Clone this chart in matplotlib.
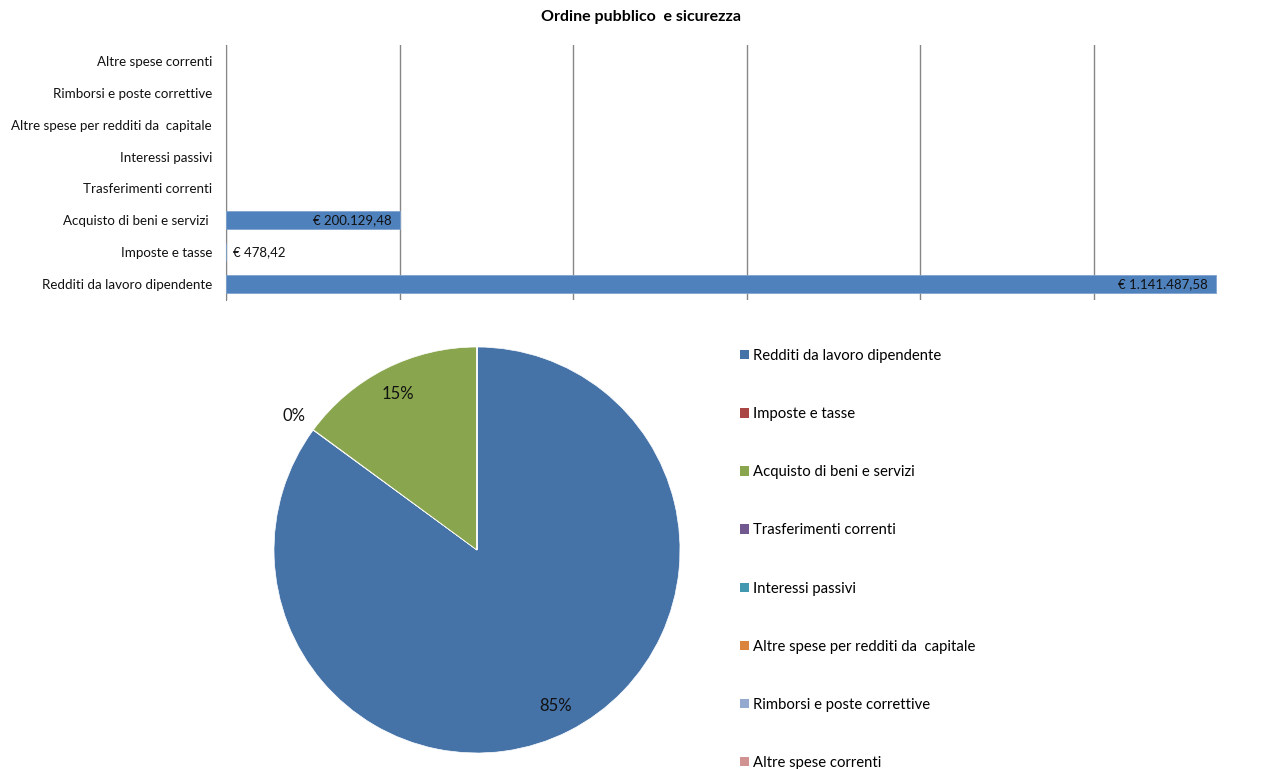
import numpy as np
import matplotlib
matplotlib.use("Agg")
import matplotlib.pyplot as plt
from matplotlib.patches import Patch

plt.rcParams['font.family'] = ['Lato', 'DejaVu Sans']

# dati (dal basso verso l'alto nel grafico a barre)
categorie = ["Redditi da lavoro dipendente", "Imposte e tasse", "Acquisto di beni e servizi ",
             "Trasferimenti correnti", "Interessi passivi", "Altre spese per redditi da  capitale",
             "Rimborsi e poste correttive", "Altre spese correnti"]
legenda = ["Redditi da lavoro dipendente", "Imposte e tasse", "Acquisto di beni e servizi",
           "Trasferimenti correnti", "Interessi passivi", "Altre spese per redditi da  capitale",
           "Rimborsi e poste correttive", "Altre spese correnti"]
valori = [1141487.58, 478.42, 200129.48, 0, 0, 0, 0, 0]
etichette_pct = ["85%", "0%", "15%", "", "", "", "", ""]
colori_torta = ["#4572A7", "#AA4643", "#89A54E", "#71588F", "#4198AF", "#DB843D", "#93A9CF", "#D19392"]
colore_barre = "#4F81BD"
titolo = "Ordine pubblico  e sicurezza"


def euro(v):
    s = f"{v:,.2f}"                      # 1,141,487.58
    s = s.replace(",", "X").replace(".", ",").replace("X", ".")
    return "€ " + s


W, H = 1267, 769
fig = plt.figure(figsize=(W / 100, H / 100), dpi=100)

# --- barre ---
ax = fig.add_axes([226 / W, 1 - 300 / H, 1 - 226 / W, (300 - 45) / H])
y = np.arange(len(categorie))
bars = ax.barh(y, valori, height=0.57, color=colore_barre, edgecolor="#7FA3D0", linewidth=0.6, zorder=3)
for b, v in zip(bars, valori):
    if v <= 0:
        b.set_visible(False)
ax.set_xlim(0, 1200000)
ax.set_ylim(-0.5, len(categorie) - 0.5)
ax.set_xticks(np.arange(0, 1000001, 200000))
ax.set_xticklabels([])
ax.tick_params(axis="x", length=0)
ax.set_yticks(y)
ax.set_yticklabels(categorie, fontsize=9.6, color="#111111")
ax.tick_params(axis="y", length=0, pad=10)
ax.grid(axis="x", color="#868686", linewidth=1, zorder=0)
for s in ["top", "right", "bottom"]:
    ax.spines[s].set_visible(False)
ax.spines["left"].set_color("#868686")

for yi, v in zip(y, valori):
    if v <= 0:
        continue
    if v > 50000:
        ax.annotate(euro(v), (v, yi), xytext=(-6, 0), textcoords="offset points",
                    ha="right", va="center", fontsize=9.5, color="#111111", zorder=4)
    else:
        ax.annotate(euro(v), (v, yi), xytext=(5, 0), textcoords="offset points",
                    ha="left", va="center", fontsize=9.5, color="#111111", zorder=4)

fig.text(641 / W, 1 - 17 / H, titolo, ha="center", va="center", fontsize=11.5, fontweight="bold")

# --- torta ---
cx, cy, r = 477, 550, 203
pax = fig.add_axes([(cx - r) / W, (H - cy - r) / H, 2 * r / W, 2 * r / H])
wedges, _ = pax.pie(valori, colors=colori_torta, startangle=90, counterclock=False, radius=1,
                    wedgeprops=dict(linewidth=0.5, edgecolor="white"))
pax.set_xlim(-1, 1)
pax.set_ylim(-1, 1)
pax.set_aspect("equal")
pax.axis("off")
for w, lab in zip(wedges, etichette_pct):
    if not lab:
        continue
    ang = np.deg2rad((w.theta1 + w.theta2) / 2)
    d = 0.86 if (w.theta2 - w.theta1) > 5 else 1.12
    pax.text(d * np.cos(ang), d * np.sin(ang), lab, ha="center", va="center", fontsize=12, color="#111111")

handles = [Patch(facecolor=c, edgecolor="none") for c in colori_torta]
fig.legend(handles, legenda, loc="upper left", bbox_to_anchor=(740 / W, 1 - 349 / H),
           frameon=False, fontsize=10.7, labelspacing=2.97, handlelength=0.6, handleheight=0.6,
           handletextpad=0.3, borderaxespad=0, borderpad=0)

fig.savefig("out.png", dpi=100)
